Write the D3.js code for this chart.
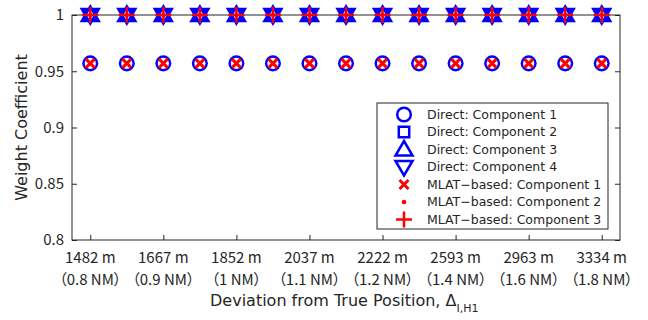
<!DOCTYPE html>
<meta charset="utf-8">
<head>
    <meta charset="utf-8">
    <script src="https://d3js.org/d3.v7.min.js"></script>
    <style>
        body { margin: 0; background: #fff; }
        text { font-family: "DejaVu Sans", "Noto Sans CJK JP", sans-serif; fill: #262626; }
        .tick-label { font-family: "Noto Sans CJK JP", sans-serif; font-feature-settings: "palt"; }
    </style>
</head>
<body>
    <svg width="648" height="320"></svg>
    <script>
        // x positions are sample indices 1..15, ticks at every other sample
        var tickIdx = [1, 3, 5, 7, 9, 11, 13, 15];
        var tickMeters = ["1482 m", "1667 m", "1852 m", "2037 m", "2222 m", "2593 m", "2963 m", "3334 m"];
        var tickNM = ["（0.8 NM）", "（0.9 NM）", "（1 NM）", "（1.1 NM）", "（1.2 NM）", "（1.4 NM）", "（1.6 NM）", "（1.8 NM）"];
        var yTicks = [0.8, 0.85, 0.9, 0.95, 1];

        var direct1 = [0.957, 0.957, 0.957, 0.957, 0.957, 0.957, 0.957, 0.957, 0.957, 0.957, 0.957, 0.957, 0.957, 0.957, 0.957];
        var direct2 = [1, 1, 1, 1, 1, 1, 1, 1, 1, 1, 1, 1, 1, 1, 1];
        var direct3 = [1, 1, 1, 1, 1, 1, 1, 1, 1, 1, 1, 1, 1, 1, 1];
        var direct4 = [1, 1, 1, 1, 1, 1, 1, 1, 1, 1, 1, 1, 1, 1, 1];
        var mlat1 = [0.957, 0.957, 0.957, 0.957, 0.957, 0.957, 0.957, 0.957, 0.957, 0.957, 0.957, 0.957, 0.957, 0.957, 0.957];
        var mlat2 = [1, 1, 1, 1, 1, 1, 1, 1, 1, 1, 1, 1, 1, 1, 1];
        var mlat3 = [1, 1, 1, 1, 1, 1, 1, 1, 1, 1, 1, 1, 1, 1, 1];

        var svg = d3.select("svg");
        // note: "top" is taken by window.top, so use pl/pr/pt/pb
        var pl = 72, pr = 620, pt = 15, pb = 240;
        var axisColor = "#262626";

        var x = d3.scaleLinear().domain([0.5, 15.5]).range([pl, pr]);
        var y = d3.scaleLinear().domain([0.8, 1]).range([pb, pt]);

        // marker shapes (MATLAB-like)
        var shapes = {
            circle: { d: d3.symbol(d3.symbolCircle, Math.PI * 6.8 * 6.8)(), color: "blue", fill: "none", sw: 2.5 },
            square: { d: "M-5.2,-5.2H5.2V5.2H-5.2Z", color: "blue", fill: "none", sw: 2.5 },
            triUp: { d: "M0,-8.5L8.5,6L-8.5,6Z", color: "blue", fill: "none", sw: 2.5 },
            triDown: { d: "M0,8.5L8.5,-6L-8.5,-6Z", color: "blue", fill: "none", sw: 2.5 },
            xmark: { d: "M-4.5,-4.5L4.5,4.5M-4.5,4.5L4.5,-4.5", color: "red", fill: "none", sw: 3 },
            dot: { d: d3.symbol(d3.symbolCircle, Math.PI * 2.3 * 2.3)(), color: "red", fill: "red", sw: 0 },
            plus: { d: "M-8,0H8M0,-8V8", color: "red", fill: "none", sw: 2.5 }
        };

        var series = [
            { name: "Direct: Component 1", values: direct1, shape: "circle" },
            { name: "Direct: Component 2", values: direct2, shape: "square" },
            { name: "Direct: Component 3", values: direct3, shape: "triUp" },
            { name: "Direct: Component 4", values: direct4, shape: "triDown" },
            { name: "MLAT\u2212based: Component 1", values: mlat1, shape: "xmark" },
            { name: "MLAT\u2212based: Component 2", values: mlat2, shape: "dot" },
            { name: "MLAT\u2212based: Component 3", values: mlat3, shape: "plus" }
        ];

        function drawMarker(sel, shape) {
            var s = shapes[shape];
            sel.append("path")
                .attr("d", s.d)
                .attr("fill", s.fill)
                .attr("stroke", s.sw ? s.color : "none")
                .attr("stroke-width", s.sw);
        }

        // axes box
        svg.append("rect")
            .attr("x", pl).attr("y", pt)
            .attr("width", pr - pl).attr("height", pb - pt)
            .attr("fill", "none").attr("stroke", axisColor).attr("stroke-width", 1);

        // y axis (left + right, ticks inward)
        var yAxis = svg.append("g")
            .attr("transform", "translate(" + pl + ",0)")
            .call(d3.axisLeft(y).tickValues(yTicks).tickSizeInner(-5).tickSizeOuter(0).tickPadding(8)
                .tickFormat(function (d) { return d3.format("")(d); }));
        yAxis.select(".domain").remove();
        yAxis.selectAll("line").attr("stroke", axisColor);
        yAxis.selectAll("text")
            .attr("class", "tick-label")
            .attr("font-size", 15).attr("font-family", null).attr("fill", axisColor);

        var yAxisR = svg.append("g")
            .attr("transform", "translate(" + pr + ",0)")
            .call(d3.axisRight(y).tickValues(yTicks).tickSizeInner(-5).tickSizeOuter(0).tickFormat(""));
        yAxisR.select(".domain").remove();
        yAxisR.selectAll("line").attr("stroke", axisColor);

        // x axis (bottom + top, ticks inward)
        var xAxis = svg.append("g")
            .attr("transform", "translate(0," + pb + ")")
            .call(d3.axisBottom(x).tickValues(tickIdx).tickSizeInner(-5).tickSizeOuter(0).tickFormat(""));
        xAxis.select(".domain").remove();
        xAxis.selectAll("line").attr("stroke", axisColor);

        var xAxisT = svg.append("g")
            .attr("transform", "translate(0," + pt + ")")
            .call(d3.axisTop(x).tickValues(tickIdx).tickSizeInner(-5).tickSizeOuter(0).tickFormat(""));
        xAxisT.select(".domain").remove();
        xAxisT.selectAll("line").attr("stroke", axisColor);

        // two-line x tick labels
        var xl = svg.append("g").selectAll("text")
            .data(tickIdx)
            .enter().append("text")
            .attr("class", "tick-label")
            .attr("x", function (d) { return x(d); })
            .attr("y", pb + 23)
            .attr("text-anchor", "middle")
            .attr("font-size", 15);
        xl.append("tspan")
            .attr("x", function (d) { return x(d); })
            .text(function (d, i) { return tickMeters[i]; });
        xl.append("tspan")
            .attr("x", function (d) { return x(d); })
            .attr("dy", 22)
            .text(function (d, i) { return tickNM[i]; });

        // axis titles
        svg.append("text")
            .attr("transform", "translate(27," + ((pt + pb) / 2) + ") rotate(-90)")
            .attr("text-anchor", "middle")
            .attr("font-size", 16)
            .text("Weight Coefficient");

        var xt = svg.append("text")
            .attr("x", 210)
            .attr("y", 306)
            .attr("font-size", 16);
        xt.append("tspan").text("Deviation from True Position, \u0394");
        xt.append("tspan").attr("font-size", 11).attr("dy", 6).text("I,H1");

        // data markers
        var plot = svg.append("g");
        series.forEach(function (s) {
            plot.append("g").selectAll("g")
                .data(s.values)
                .enter().append("g")
                .attr("transform", function (d, i) { return "translate(" + x(i + 1) + "," + y(d) + ")"; })
                .each(function () { drawMarker(d3.select(this), s.shape); });
        });

        // legend
        var lg = svg.append("g");
        lg.append("rect")
            .attr("x", 377).attr("y", 103)
            .attr("width", 231).attr("height", 126)
            .attr("fill", "white").attr("stroke", axisColor).attr("stroke-width", 1);
        series.forEach(function (s, i) {
            var row = lg.append("g").attr("transform", "translate(0," + (114.5 + i * 17.5) + ")");
            drawMarker(row.append("g").attr("transform", "translate(404,0)"), s.shape);
            row.append("text")
                .attr("x", 427).attr("y", 0)
                .attr("dy", "0.35em")
                .attr("font-size", 12.5)
                .text(s.name);
        });
    </script>
</body>
</html>
